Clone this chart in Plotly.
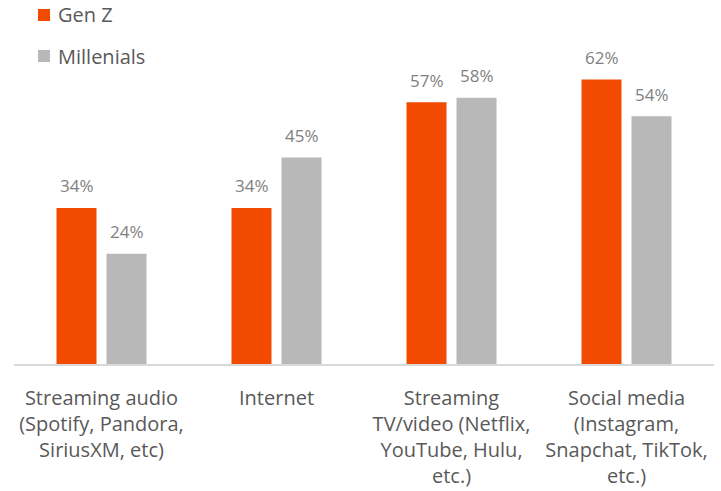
import plotly.graph_objects as go

categories = [
    "Streaming audio<br>(Spotify, Pandora,<br>SiriusXM, etc)",
    "Internet",
    "Streaming<br>TV/video (Netflix,<br>YouTube, Hulu,<br>etc.)",
    "Social media<br>(Instagram,<br>Snapchat, TikTok,<br>etc.)",
]
series_names = ["Gen Z", "Millenials"]
gen_z = [34, 34, 57, 62]
millenials = [24, 45, 58, 54]

FONT = "Open Sans, Noto Sans, sans-serif"
COLORS = ["#F24A00", "#B8B8B8"]
LABEL_GRAY = "#7F7F7F"
TEXT_GRAY = "#595959"

# plot area geometry (pixels) used to place the hand-drawn legend
W, H = 721, 491
ML, MR, MT, MB = 14, 7, 0, 127
PW, PH = W - ML - MR, H - MT - MB


def px_to_paper(x, y):
    return (x - ML) / PW, (H - MB - y) / PH


fig = go.Figure()
for name, vals, color in zip(series_names, [gen_z, millenials], COLORS):
    fig.add_trace(go.Bar(
        name=name, x=categories, y=vals,
        marker=dict(color=color, line=dict(width=0)),
        showlegend=False,
    ))

# value labels above each bar
for vals, shift in [(gen_z, -25), (millenials, 25)]:
    for cat, v in zip(categories, vals):
        fig.add_annotation(
            x=cat, y=v, text=f"{v}%", showarrow=False,
            xshift=shift, yshift=22, yanchor="middle",
            font=dict(family=FONT, size=17, color=LABEL_GRAY),
        )

# legend: colour squares with series names
for i, (name, color) in enumerate(zip(series_names, COLORS)):
    cy = 15 + 41 * i
    x0, y0 = px_to_paper(38, cy + 6)
    x1, y1 = px_to_paper(50, cy - 6)
    fig.add_shape(type="rect", xref="paper", yref="paper",
                  x0=x0, y0=y0, x1=x1, y1=y1,
                  fillcolor=color, line=dict(width=0))
    tx, ty = px_to_paper(56, cy)
    fig.add_annotation(
        xref="paper", yref="paper", x=tx, y=ty, text=name,
        showarrow=False, xanchor="left", yanchor="middle",
        font=dict(family=FONT, size=20, color=TEXT_GRAY),
    )

fig.update_layout(
    width=W, height=H,
    margin=dict(l=ML, r=MR, t=MT, b=MB),
    paper_bgcolor="white", plot_bgcolor="white",
    barmode="group", bargap=0.4286, bargroupgap=0.2,
    font=dict(family=FONT, color=TEXT_GRAY),
    showlegend=False,
)
fig.update_xaxes(
    showline=True, linecolor="#D9D9D9", linewidth=1.5,
    ticks="", showgrid=False,
    tickfont=dict(family=FONT, size=20, color=TEXT_GRAY),
    ticklabelstandoff=15,
)
fig.update_yaxes(
    range=[0, 79.3], visible=False, showgrid=False, zeroline=False,
)

fig.write_html("out.html")
